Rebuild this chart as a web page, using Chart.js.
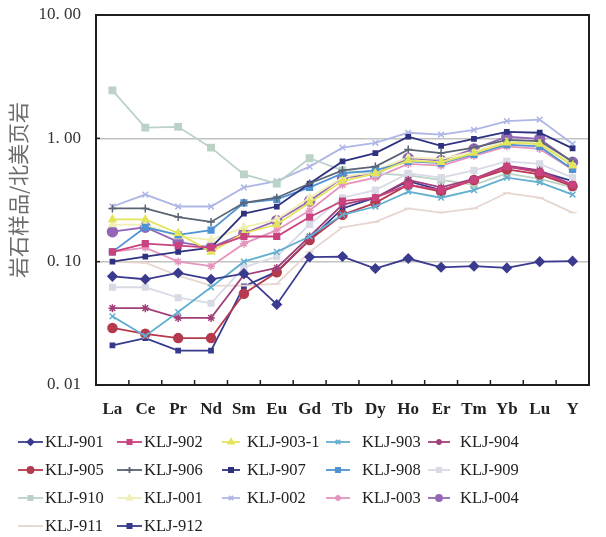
<!DOCTYPE html>
<html><head><meta charset="utf-8">
<style>html,body{margin:0;padding:0;background:#fff;}#wrap{width:606px;height:537px;position:relative;}</style>
<script src="https://cdn.jsdelivr.net/npm/chart.js@4.4.0/dist/chart.umd.min.js"></script>
</head><body><div id="wrap"><canvas id="c" width="606" height="537"></canvas></div>
<script>
// ---- data ----
const categories = ['La','Ce','Pr','Nd','Sm','Eu','Gd','Tb','Dy','Ho','Er','Tm','Yb','Lu','Y'];
const yTickValues = [10, 1, 0.1, 0.01];
const yTickLabels = ['10. 00', '1. 00', '0. 10', '0. 01'];
const yTitle = '岩石样品/北美页岩';

const seriesNames = ['KLJ-901','KLJ-902','KLJ-903-1','KLJ-903','KLJ-904','KLJ-905','KLJ-906','KLJ-907','KLJ-908','KLJ-909','KLJ-910','KLJ-001','KLJ-002','KLJ-003','KLJ-004','KLJ-911','KLJ-912'];

const klj901  = [0.076,0.072,0.081,0.072,0.080,0.045,0.109,0.110,0.088,0.106,0.090,0.092,0.089,0.100,0.101];
const klj902  = [0.12,0.14,0.135,0.13,0.16,0.16,0.23,0.31,0.33,0.42,0.38,0.46,0.59,0.53,0.42];
const klj9031 = [0.22,0.22,0.17,0.12,0.17,0.20,0.30,0.45,0.52,0.66,0.64,0.76,0.92,0.90,0.60];
const klj903  = [0.036,0.025,0.039,0.062,0.10,0.12,0.16,0.24,0.28,0.37,0.33,0.38,0.48,0.44,0.35];
const klj904  = [0.042,0.042,0.035,0.035,0.078,0.089,0.16,0.29,0.33,0.46,0.40,0.47,0.60,0.55,0.42];
const klj905  = [0.029,0.026,0.024,0.024,0.055,0.082,0.15,0.24,0.30,0.42,0.37,0.46,0.56,0.51,0.41];
const klj906  = [0.27,0.27,0.23,0.21,0.30,0.33,0.43,0.55,0.59,0.81,0.76,0.84,0.97,0.95,0.65];
const klj907  = [0.10,0.11,0.12,0.13,0.245,0.28,0.43,0.65,0.76,1.03,0.87,0.99,1.13,1.11,0.83];
const klj908  = [0.12,0.19,0.165,0.18,0.30,0.32,0.40,0.52,0.55,0.65,0.63,0.74,0.89,0.86,0.56];
const klj909  = [0.062,0.062,0.051,0.046,0.09,0.11,0.20,0.33,0.38,0.52,0.48,0.55,0.65,0.62,0.48];
const klj910  = [2.45,1.22,1.24,0.84,0.51,0.43,0.69,0.55,0.52,0.50,0.46,0.42,0.52,0.47,0.40];
const klj001  = [0.20,0.20,0.16,0.15,0.19,0.22,0.33,0.48,0.55,0.70,0.68,0.78,0.95,0.92,0.62];
const klj002  = [0.28,0.35,0.28,0.28,0.40,0.45,0.59,0.84,0.92,1.11,1.07,1.17,1.38,1.42,0.90];
const klj003  = [0.12,0.13,0.10,0.092,0.14,0.18,0.26,0.42,0.48,0.62,0.60,0.72,0.86,0.82,0.56];
const klj004  = [0.175,0.19,0.145,0.13,0.17,0.215,0.31,0.48,0.51,0.69,0.66,0.82,1.03,0.99,0.64];
const klj911  = [0.10,0.098,0.077,0.064,0.064,0.066,0.12,0.19,0.21,0.27,0.25,0.27,0.36,0.33,0.25];
const klj912  = [0.021,0.024,0.019,0.019,0.063,0.083,0.15,0.27,0.33,0.45,0.38,0.46,0.59,0.54,0.45];

const seriesValues = [klj901,klj902,klj9031,klj903,klj904,klj905,klj906,klj907,klj908,klj909,klj910,klj001,klj002,klj003,klj004,klj911,klj912];

// ---- styles ----
const colors = ['#3a3a8f','#c9427e','#e4e45a','#62aed0','#a0407a','#b53a4e','#5b6474','#2f3280','#4f93d4','#d8dae6','#bad3c6','#efefb5','#aeb6e6','#e594bd','#9466b8','#e6d6cf','#363a8c'];
const pStyles = ['rectRot','rect','triangle','crossRot','star','circle','cross','rect','rect','rect','rect','triangle','crossRot','star','circle','line','rect'];
const pRadius = [4.5,4,4,4,4,4.5,4,3,4,4,4.5,4,4,4,5,4,3];

const datasets = seriesNames.map((n,i)=>({
  label:n, data:seriesValues[i],
  borderColor:colors[i], backgroundColor:colors[i],
  borderWidth:1.8, pointStyle:pStyles[i], pointRadius:pRadius[i],
  pointBorderWidth:1.5, pointBorderColor:colors[i], pointBackgroundColor:colors[i],
  tension:0, fill:false
}));

const framePlugin = {
  id:'frame',
  afterDraw(chart){
    const {ctx, chartArea:a} = chart;
    const xs = chart.scales.x, ys = chart.scales.y;
    ctx.save();
    ctx.strokeStyle='#1e1e1e'; ctx.lineWidth=2;
    ctx.strokeRect(a.left, a.top, a.right-a.left, a.bottom-a.top);
    ctx.lineWidth=1.5;
    for(let i=1;i<categories.length;i++){
      const x=(xs.getPixelForValue(i-1)+xs.getPixelForValue(i))/2;
      ctx.beginPath(); ctx.moveTo(x,a.bottom); ctx.lineTo(x,a.bottom-5); ctx.stroke();
    }
    yTickValues.forEach(v=>{
      const y=ys.getPixelForValue(v);
      ctx.beginPath(); ctx.moveTo(a.left,y); ctx.lineTo(a.left+4,y); ctx.stroke();
    });
    ctx.fillStyle='#6c6c6c';
    ctx.font='21px "Noto Sans CJK SC"';
    ctx.textAlign='center'; ctx.textBaseline='middle';
    ctx.translate(18,190);
    ctx.rotate(-Math.PI/2);
    ctx.fillText(yTitle,0,0);
    ctx.restore();
    // legend
    const colMark=[[18,43],[117,142],[222,240],[326,350],[428,450]];
    const colText=[45,144,247,362,460];
    const rowY=[442,470,498,526];
    ctx.save();
    chart.data.datasets.forEach((d,i)=>{
      const c=i%5, r=Math.floor(i/5);
      const y=rowY[r];
      ctx.strokeStyle=d.borderColor; ctx.lineWidth=1.8;
      ctx.beginPath(); ctx.moveTo(colMark[c][0],y); ctx.lineTo(colMark[c][1],y); ctx.stroke();
      ctx.fillStyle=d.backgroundColor;
      Chart.helpers.drawPoint(ctx,{pointStyle:d.pointStyle,radius:3,borderWidth:1.2,rotation:0},(colMark[c][0]+colMark[c][1])/2,y);
      ctx.fillStyle='#222';
      ctx.font='16.5px "Liberation Serif"';
      ctx.textAlign='left'; ctx.textBaseline='middle';
      ctx.fillText(d.label,colText[c],y+1);
    });
    ctx.restore();
  }
};

new Chart(document.getElementById('c').getContext('2d'),{
  type:'line',
  data:{labels:categories, datasets},
  options:{
    responsive:false, animation:false, devicePixelRatio:1,
    layout:{autoPadding:false, padding:{left:0,right:17,top:15,bottom:110}},
    plugins:{legend:{display:false}, tooltip:{enabled:false}},
    scales:{
      x:{type:'category', offset:true, grid:{display:false}, border:{display:false},
         ticks:{font:{family:'Liberation Serif',size:17,weight:'bold'},color:'#222',padding:6,maxRotation:0,autoSkip:false},
         afterFit(s){s.height=42; s.paddingLeft=0; s.paddingRight=0;}},
      y:{type:'logarithmic', min:0.01, max:10,
         afterBuildTicks(s){s.ticks=yTickValues.slice().reverse().map(v=>({value:v, major:true}));},
         ticks:{font:{family:'Liberation Serif',size:17},color:'#333',padding:15,autoSkip:false,
           callback:(v)=>{const k=yTickValues.findIndex(t=>Math.abs(t-v)/t<1e-6);return k>=0?yTickLabels[k]:'';}},
         grid:{color:(c)=>{const v=c.tick&&c.tick.value;return (Math.abs(v-1)<1e-9||Math.abs(v-0.1)<1e-9)?'#c2c2c2':'rgba(0,0,0,0)';},lineWidth:1.5,drawTicks:false},
         border:{display:false},
         afterFit(s){s.width=96; s.paddingTop=0; s.paddingBottom=0;}}
    }
  },
  plugins:[framePlugin]
});
</script></body></html>
